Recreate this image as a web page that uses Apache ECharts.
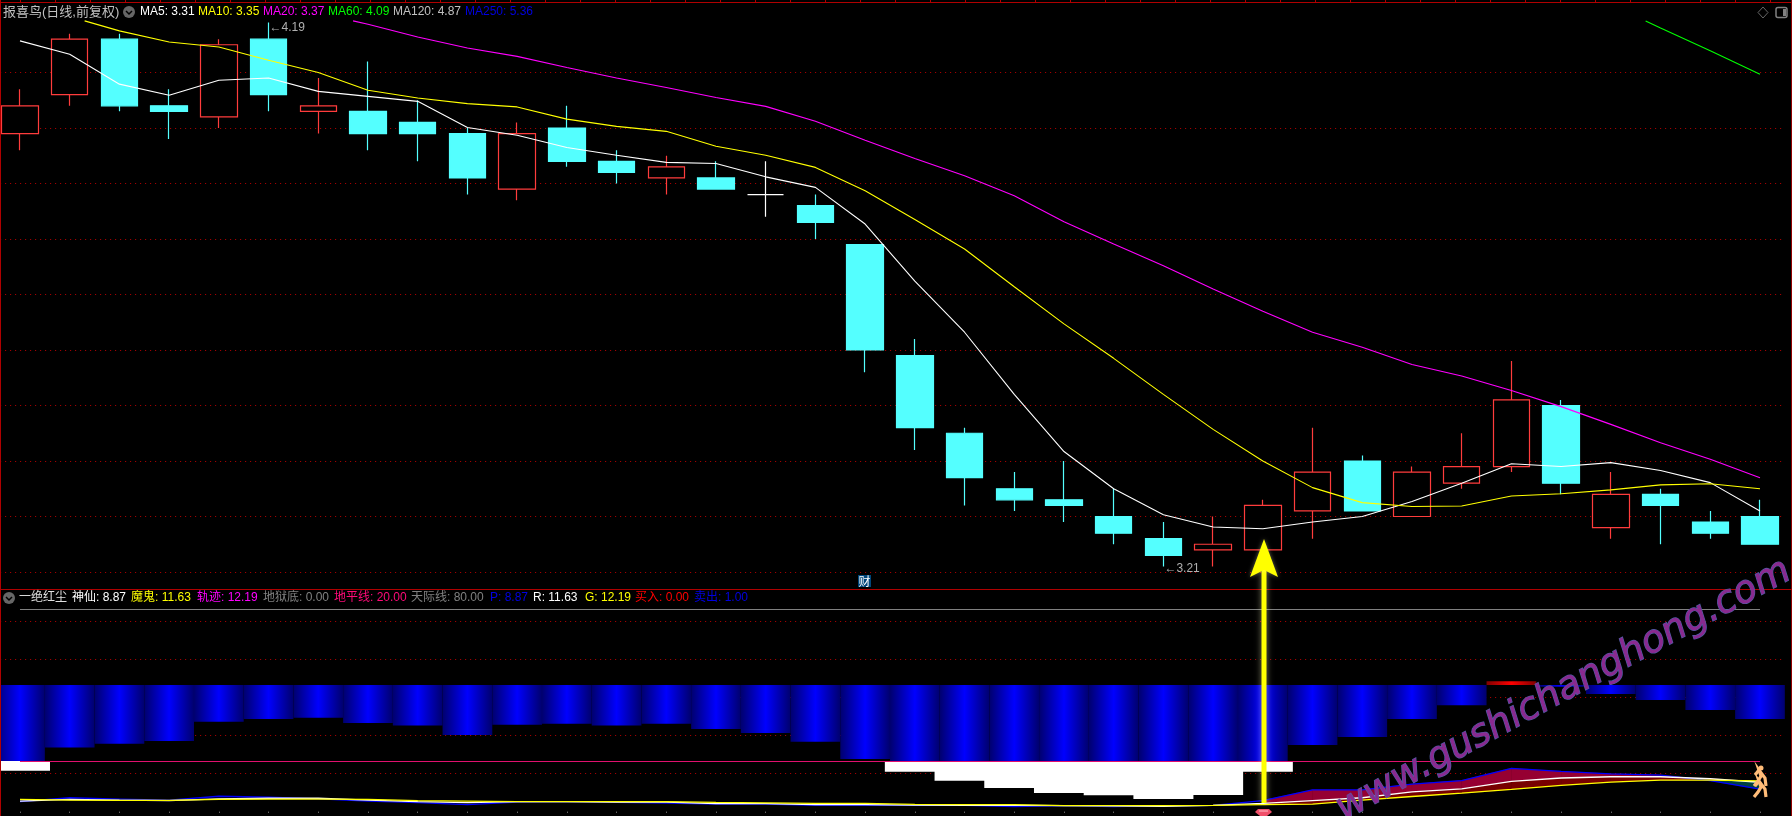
<!DOCTYPE html>
<html>
<head>
<meta charset="utf-8">
<title>报喜鸟</title>
<style>
  html, body { margin: 0; padding: 0; background: #000; }
  #chart { width: 1792px; height: 816px; }
</style>
<script src="https://cdn.jsdelivr.net/npm/echarts@6/dist/echarts.min.js"></script>
</head>
<body>
<div id="chart"></div>
<script>
// K线
const opens  = [3.99,4.06,4.16,4.04,4.02,4.16,4.03,4.03,4.01,3.99,3.89,4.00,3.94,3.91,3.91,3.88,3.86,3.79,3.59,3.45,3.35,3.33,3.30,3.26,3.24,3.24,3.31,3.40,3.30,3.36,3.39,3.50,3.28,3.34,3.29,3.30]
const closes = [4.04,4.16,4.04,4.03,4.15,4.06,4.04,3.99,3.99,3.91,3.99,3.94,3.92,3.93,3.89,3.88,3.83,3.60,3.46,3.37,3.33,3.32,3.27,3.23,3.25,3.32,3.38,3.31,3.38,3.39,3.51,3.36,3.34,3.32,3.27,3.25]
const lows   = [3.96,4.04,4.03,3.98,4.00,4.03,3.99,3.96,3.94,3.88,3.87,3.93,3.90,3.88,3.89,3.84,3.80,3.56,3.42,3.32,3.31,3.29,3.25,3.21,3.21,3.24,3.26,3.31,3.30,3.35,3.38,3.34,3.26,3.25,3.26,3.25]
const highs  = [4.07,4.17,4.17,4.07,4.16,4.19,4.09,4.12,4.05,4.00,4.01,4.04,3.96,3.95,3.94,3.94,3.88,3.79,3.62,3.46,3.38,3.40,3.35,3.29,3.30,3.33,3.46,3.41,3.39,3.45,3.58,3.51,3.38,3.35,3.31,3.33]
const categories = opens.map((v, i) => String(i + 1))

// 均线，[序号, 值]，序号是K线的位置
const ma5 = [4.157,4.133,4.079,4.059,4.086,4.09,4.066,4.057,4.048,4.001,3.987,3.965,3.951,3.938,3.936,3.912,3.893,3.827,3.724,3.632,3.52,3.417,3.35,3.303,3.281,3.278,3.29,3.30,3.327,3.36,3.395,3.39,3.397,3.383,3.361,3.31]
const ma10 = [[1.3,4.193],[2,4.175],[3,4.155],[4,4.146],[5,4.122],[6,4.10],[7,4.068],[8,4.054],[9,4.044],[10,4.038],[11,4.016],[12,4.003],[13,3.994],[14,3.967],[15,3.951],[16,3.929],[17,3.887],[18,3.835],[19,3.782],[20,3.714],[21,3.647],[22,3.585],[23,3.52],[24,3.457],[25,3.40],[26,3.352],[27,3.325],[28,3.318],[29,3.319],[30,3.337],[31,3.341],[32,3.348],[33,3.357],[34,3.359],[35,3.35]]
const ma20 = [[6.7,4.193],[7,4.187],[8,4.164],[9,4.144],[10,4.129],[11,4.109],[12,4.09],[13,4.073],[14,4.055],[15,4.039],[16,4.012],[17,3.978],[18,3.945],[19,3.914],[20,3.878],[21,3.831],[22,3.791],[23,3.752],[24,3.71],[25,3.67],[26,3.632],[27,3.605],[28,3.574],[29,3.553],[30,3.527],[31,3.498],[32,3.466],[33,3.433],[34,3.403],[35,3.37]]
const ma60 = [[32.7,4.193],[33,4.18],[34,4.139],[35,4.097]]

// 副图：蓝柱下沿、红柱上沿、白柱下沿
const bandBase = 50
const blueLow = [20,25.3,26.8,27.9,35.5,36.6,37.1,35,34,30.3,34.3,34.7,34,34.7,32.6,31.1,27.6,20.8,20,20,20,20,20,20,20,20,26.3,29.5,36.6,42,50,49.3,46.5,44.1,40.1,36.6]
const redTop  = [50,50,50,50,50,50,50,50,50,50,50,50,50,50,50,50,50,50,50,50,50,50,50,50,50,50,50,50,50,50,51.5,50,50,50,50,50]
const whiteLow = [16.2,null,null,null,null,null,null,null,null,null,null,null,null,null,null,null,null,null,15.8,12.2,9.4,7.4,6.5,5.0,6.6,15.8,null,null,null,null,null,null,null,null,null,null]
const whiteTop = 20
const lineP = [3.96,5.5,5.0,4.6,6.1,5.7,5.1,4.2,3.6,2.8,3.8,4.0,3.7,3.4,3.0,3.0,2.5,2.5,2.5,2.5,2.0,2.4,2.0,2.4,2.5,4.4,8.6,8.6,10.9,12.3,17.1,15.9,14.9,14.4,12.3,8.87]
const lineR = [4.2,4.9,4.6,4.4,5.1,5.3,5.3,4.6,4.0,3.6,4.0,4.0,3.8,3.8,3.2,3.2,2.8,2.8,2.6,2.5,2.5,2.4,2.3,2.1,2.5,3.3,4.4,5.5,7.8,9.0,12.0,13.3,13.8,13.8,13.0,11.63]
const lineG = [4.9,4.6,4.5,4.5,4.9,5.0,5.0,4.9,4.4,4.2,4.0,4.0,4.0,4.0,3.7,3.5,3.3,3.3,2.9,2.8,2.8,2.4,2.4,2.4,2.5,2.8,3.0,4.6,6.0,7.3,8.8,10.4,11.7,12.5,12.5,12.19]
const skyLevel = 80
const groundLevel = 20
const fillFrom = 25

const maLabels = [['MA5: 3.31',140,'#ffffff'],['MA10: 3.35',198,'#ffff00'],['MA20: 3.37',263,'#ff00ff'],['MA60: 4.09',328,'#00ff00'],['MA120: 4.87',393,'#c0c0c0'],['MA250: 5.36',465,'#0000e0']]
const subLabels = [['一绝红尘',19,'#e0e0e0'],['神仙: 8.87',72,'#ffffff'],['魔鬼: 11.63',131,'#ffff00'],['轨迹: 12.19',197,'#ff00ff'],['地狱底: 0.00',263,'#808080'],['地平线: 20.00',334,'#ff0a78'],['天际线: 80.00',411,'#808080'],['P: 8.87',490,'#0000e0'],['R: 11.63',533,'#ffffff'],['G: 12.19',585,'#ffff00'],['买入: 0.00',635,'#ff0000'],['卖出: 1.00',694,'#0000e0']]

const FONT = '"Liberation Sans","Noto Sans CJK SC",sans-serif'
const GRID_LEFT = -4.86
const GRID_WIDTH = 1789.7

const chart = echarts.init(document.getElementById('chart'))

function gradient(edge, mid) {
    return {
        type: 'linear', x: 0, y: 0, x2: 1, y2: 0,
        colorStops: [{offset: 0, color: edge}, {offset: 0.5, color: mid}, {offset: 1, color: edge}]
    }
}

// 两条线之间 upper 高于 lower 的部分填色
function fillBetween(upper, lower, color) {
    return {
        type: 'custom', xAxisIndex: 2, yAxisIndex: 1, data: [0], z: 3, silent: true,
        renderItem(params, api) {
            const children = []
            for (let i = fillFrom; i < upper.length - 1; i++) {
                const d0 = upper[i] - lower[i]
                const d1 = upper[i + 1] - lower[i + 1]
                const u0 = api.coord([i, upper[i]]), l0 = api.coord([i, lower[i]])
                const u1 = api.coord([i + 1, upper[i + 1]]), l1 = api.coord([i + 1, lower[i + 1]])
                let points = null
                if (d0 > 0 && d1 > 0) {
                    points = [u0, u1, l1, l0]
                } else if (d0 > 0 || d1 > 0) {
                    const t = d0 / (d0 - d1)
                    const cross = [u0[0] + (u1[0] - u0[0]) * t, u0[1] + (u1[1] - u0[1]) * t]
                    points = d0 > 0 ? [u0, cross, l0] : [cross, u1, l1]
                }
                if (points) {
                    children.push({type: 'polygon', shape: {points}, style: {fill: color, stroke: color, lineWidth: 0.5}})
                }
            }
            return {type: 'group', children}
        }
    }
}

function maLine(name, data, color) {
    return {
        name, type: 'line', xAxisIndex: 1, yAxisIndex: 0, data, z: 5,
        showSymbol: false, silent: true,
        lineStyle: {color, width: 1.1}
    }
}

function subLine(name, data, color, z) {
    return {
        name, type: 'line', xAxisIndex: 2, yAxisIndex: 1, data, z,
        showSymbol: false, silent: true,
        lineStyle: {color, width: 1.3}
    }
}

function level(value, color) {
    return {
        type: 'line', xAxisIndex: 2, yAxisIndex: 1, data: [], z: 4, silent: true,
        markLine: {
            silent: true, symbol: 'none', label: {show: false}, animation: false,
            lineStyle: {color, width: 1, type: 'solid'},
            data: [[{coord: [0, value]}, {coord: [categories.length - 1, value]}]]
        }
    }
}

function text(str, x, y, color, size) {
    return {type: 'text', x, y, z: 50, silent: true, style: {text: str, fill: color, font: (size || 12) + 'px ' + FONT, textVerticalAlign: 'middle'}}
}

function foldIcon(x, y) {
    return [
        {type: 'circle', shape: {cx: x, cy: y, r: 6}, style: {fill: '#666666'}, z: 50},
        {type: 'polyline', shape: {points: [[x - 3, y - 1], [x, y + 2], [x + 3, y - 1]]}, style: {stroke: '#000', lineWidth: 1.5, fill: null}, z: 51}
    ]
}

function runner(x, y) {
    const s = {stroke: '#ffbc78', lineWidth: 3.2, fill: null}
    return [
        {type: 'polyline', shape: {points: [[x - 6, y + 10], [x - 2, y + 5], [x + 1, y], [x - 1, y - 6], [x + 5, y + 2], [x + 6, y + 10]]}, style: s, z: 60},
        {type: 'polyline', shape: {points: [[x - 5, y - 1], [x - 1, y - 6]]}, style: s, z: 60}
    ]
}

const graphics = []
maLabels.forEach(l => graphics.push(text(l[0], l[1], 12, l[2])))
subLabels.forEach(l => graphics.push(text(l[0], l[1], 598, l[2])))
graphics.push(text('报喜鸟(日线,前复权)', 3, 12, '#c0c0c0', 13))
graphics.push(...foldIcon(129, 12), ...foldIcon(9, 598))

// 边框
const frame = '#b00000'
graphics.push(
    {type: 'line', shape: {x1: 0, y1: 2.5, x2: 1792, y2: 2.5}, style: {stroke: frame, lineWidth: 1}, z: 40},
    {type: 'line', shape: {x1: 0.5, y1: 0, x2: 0.5, y2: 816}, style: {stroke: frame, lineWidth: 1}, z: 40},
    {type: 'line', shape: {x1: 1791.5, y1: 0, x2: 1791.5, y2: 816}, style: {stroke: '#900000', lineWidth: 1}, z: 40},
    {type: 'line', shape: {x1: 0, y1: 589.5, x2: 1792, y2: 589.5}, style: {stroke: frame, lineWidth: 1}, z: 40}
)
for (let x = 20.5; x < 1792; x += 35) {
    graphics.push({type: 'line', shape: {x1: x, y1: 0, x2: x, y2: 2}, style: {stroke: frame, lineWidth: 1}, z: 40})
}

// 右上角按钮
graphics.push(
    {type: 'polygon', shape: {points: [[1763, 7], [1768, 12.5], [1763, 18], [1758, 12.5]]}, style: {stroke: '#666', fill: null, lineWidth: 1}, z: 50},
    {type: 'rect', shape: {x: 1776, y: 7.5, width: 11, height: 10, r: 2}, style: {stroke: '#808080', fill: null, lineWidth: 1.5}, z: 50},
    {type: 'rect', shape: {x: 1783, y: 9, width: 3, height: 7}, style: {fill: '#808080'}, z: 50}
)

// 财
graphics.push(
    {type: 'rect', shape: {x: 858, y: 575, width: 13, height: 12}, style: {fill: '#00467a'}, z: 50},
    {type: 'text', x: 864.5, y: 581, z: 51, style: {text: '财', fill: '#ffffff', font: '12px "Noto Sans CJK SC"', textAlign: 'center', textVerticalAlign: 'middle'}}
)

// 黄色箭头
graphics.push(
    {type: 'rect', shape: {x: 1261.5, y: 570, width: 5, height: 233}, style: {fill: '#ffff00', shadowBlur: 6, shadowColor: 'rgba(255,255,200,0.5)'}, z: 70},
    {type: 'polygon', shape: {points: [[1264, 539], [1278, 577], [1264, 570], [1250, 577]]}, style: {fill: '#ffff00', shadowBlur: 4, shadowColor: 'rgba(255,255,200,0.4)'}, z: 70}
)

// 信号图标
graphics.push(
    {type: 'polygon', shape: {points: [[1258, 809], [1269, 809], [1272, 812], [1267, 816], [1260, 816], [1255, 812]]}, style: {fill: '#f0506a'}, z: 60},
    {type: 'line', shape: {x1: 1259, y1: 811, x2: 1268, y2: 811}, style: {stroke: '#ffc0c8', lineWidth: 1}, z: 61},
    {type: 'circle', shape: {cx: 1761, cy: 768, r: 2.5}, style: {fill: '#ffbc78'}, z: 60},
    ...runner(1760, 776), ...runner(1760, 787)
)

// 水印
graphics.push({
    type: 'text', x: 1339, y: 812, rotation: 28.4 * Math.PI / 180, z: 80, silent: true,
    style: {
        text: 'www.gushichanghong.com', fill: '#8a2a90', stroke: '#4f5fa8', lineWidth: 1.2,
        font: 'italic 38px "DejaVu Sans"', textVerticalAlign: 'middle'
    }
})

chart.setOption({
    backgroundColor: '#000',
    animation: false,
    graphic: graphics,
    grid: [
        {left: GRID_LEFT, width: GRID_WIDTH, top: 17, height: 555, outerBoundsMode: 'none'},
        {left: GRID_LEFT, width: GRID_WIDTH, top: 583.7, height: 228, outerBoundsMode: 'none'}
    ],
    xAxis: [
        {type: 'category', gridIndex: 0, data: categories, show: false},
        {type: 'value', gridIndex: 0, min: -0.5, max: 35.5, show: false, splitLine: {show: false}},
        {
            type: 'category', gridIndex: 1, data: categories,
            axisLine: {show: false}, axisLabel: {show: false},
            axisTick: {show: true, alignWithLabel: true, length: 1, lineStyle: {color: '#909090'}}
        },
        {type: 'category', gridIndex: 1, data: categories, show: false}
    ],
    yAxis: [
        {
            type: 'value', gridIndex: 0, min: 3.2, max: 4.2, interval: 0.1,
            axisLine: {show: false}, axisTick: {show: false}, axisLabel: {show: false},
            splitLine: {show: true, showMaxLine: false, lineStyle: {color: '#b80000', type: [1, 4], width: 1}}
        },
        {
            type: 'value', gridIndex: 1, min: 0, max: 90, interval: 15,
            axisLine: {show: false}, axisTick: {show: false}, axisLabel: {show: false},
            splitLine: {show: true, showMinLine: false, showMaxLine: false, lineStyle: {color: '#b80000', type: [1, 4], width: 1}}
        }
    ],
    series: [
        {
            name: 'K线', type: 'candlestick', xAxisIndex: 0, yAxisIndex: 0,
            barWidth: 37, z: 3, silent: true,
            itemStyle: {
                color: '#000000', color0: '#54ffff',
                borderColor: '#ff3c3c', borderColor0: '#54ffff', borderColorDoji: '#ffffff',
                borderWidth: 1.2
            },
            data: categories.map((c, i) => [opens[i], closes[i], lows[i], highs[i]]),
            markPoint: {
                silent: true, symbol: 'circle', symbolSize: 0, animation: false,
                label: {show: true, position: 'right', distance: 1, color: '#b0b0b0', fontSize: 12, fontFamily: FONT},
                data: [
                    {coord: [5, 4.19], value: '←4.19', label: {offset: [0, 5]}},
                    {coord: [23, 3.21], value: '←3.21', label: {offset: [0, 2]}}
                ]
            }
        },
        maLine('MA5', ma5.map((v, i) => [i, v]), '#ffffff'),
        maLine('MA10', ma10, '#ffff00'),
        maLine('MA20', ma20, '#ff00ff'),
        maLine('MA60', ma60, '#00ff00'),

        // 副图色柱，用透明的底垫起来
        {
            type: 'bar', xAxisIndex: 2, yAxisIndex: 1, stack: 'band', barWidth: '100%', silent: true, z: 2,
            itemStyle: {color: 'rgba(0,0,0,0)'}, data: blueLow
        },
        {
            type: 'bar', xAxisIndex: 2, yAxisIndex: 1, stack: 'band', barWidth: '100%', silent: true, z: 2,
            itemStyle: {color: gradient('#00006e', '#0000ff')},
            data: blueLow.map(v => bandBase - v)
        },
        {
            type: 'bar', xAxisIndex: 2, yAxisIndex: 1, stack: 'band', barWidth: '100%', silent: true, z: 2,
            itemStyle: {color: gradient('#800000', '#ff0000')},
            data: redTop.map(v => v - bandBase)
        },
        {
            type: 'bar', xAxisIndex: 3, yAxisIndex: 1, stack: 'white', barWidth: 60, silent: true, z: 2,
            itemStyle: {color: 'rgba(0,0,0,0)'}, data: whiteLow
        },
        {
            type: 'bar', xAxisIndex: 3, yAxisIndex: 1, stack: 'white', barWidth: 60, silent: true, z: 2,
            itemStyle: {color: '#ffffff'},
            data: whiteLow.map(v => v === null ? null : whiteTop - v)
        },
        level(skyLevel, '#808080'),
        level(groundLevel, '#e0106e'),
        fillBetween(lineP, lineR, '#960032'),
        fillBetween(lineR, lineG, '#780000'),
        fillBetween(lineG, lineP, '#004040'),
        subLine('P', lineP, '#0000ff', 5),
        subLine('R', lineR, '#ffffff', 6),
        subLine('G', lineG, '#ffff00', 7)
    ]
})
</script>
</body>
</html>
